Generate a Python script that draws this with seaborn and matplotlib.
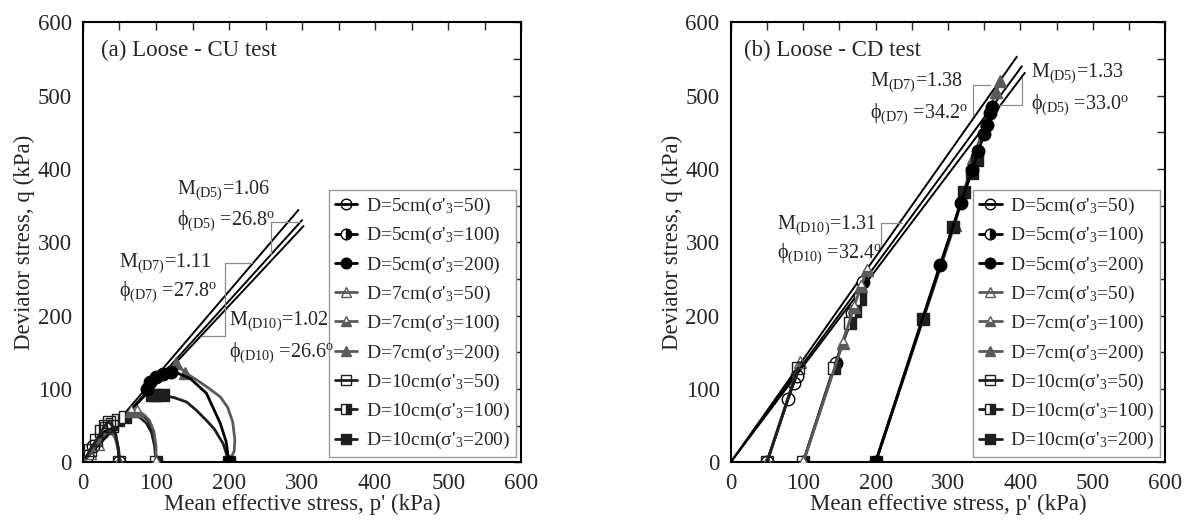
import numpy as np
import pandas as pd
import seaborn as sns
import matplotlib
matplotlib.use("Agg")
import matplotlib.pyplot as plt
from matplotlib.ticker import MultipleLocator

# ---- CU test (a): stress paths p', q (kPa) ----
cu_d5_50_p = [50, 49, 46, 42, 37, 30, 22, 14, 6, 2]
cu_d5_50_q = [0, 16, 30, 40, 45, 42, 33, 22, 9, 3]
cu_d5_100_p = [100, 99, 96, 90, 82, 74, 66, 60]
cu_d5_100_q = [0, 22, 42, 56, 64, 68, 68, 66]
cu_d5_200_p = [200, 196, 188, 169, 147, 128, 121, 110, 100, 92, 87]
cu_d5_200_q = [0, 28, 53, 94, 114, 122, 123, 120, 116, 110, 100]
cu_d7_50_p = [50, 48, 44, 38, 30, 20, 10, 3]
cu_d7_50_q = [0, 18, 33, 42, 38, 25, 12, 3]
cu_d7_100_p = [100, 100, 97, 91, 83, 74, 66]
cu_d7_100_q = [0, 22, 42, 57, 65, 70, 70]
cu_d7_200_p = [200, 207, 208, 205, 198, 188, 172, 156, 140, 128]
cu_d7_200_q = [0, 15, 30, 55, 75, 89, 101, 112, 122, 135]
cu_d10_50_p = [50, 48, 45, 40, 35, 30, 25, 18, 10, 4]
cu_d10_50_q = [0, 20, 38, 50, 55, 50, 42, 30, 17, 6]
cu_d10_100_p = [100, 98, 94, 87, 78, 68, 58, 48, 40, 32]
cu_d10_100_q = [0, 22, 40, 53, 61, 64, 62, 57, 52, 46]
cu_d10_200_p = [200, 192, 180, 169, 155, 142, 125, 110, 100, 95]
cu_d10_200_q = [0, 25, 45, 57, 71, 82, 88, 91, 91, 92]

# ---- CD test (b) ----
cd_d5_50_p = [50, 79, 87, 91]
cd_d5_50_q = [0, 86, 108, 118]
cd_d5_100_p = [100, 145, 168, 182]
cd_d5_100_q = [0, 135, 204, 246]
cd_d5_200_p = [200, 289, 318, 333, 342, 350, 354, 358, 361]
cd_d5_200_q = [0, 269, 354, 398, 425, 448, 460, 476, 484]
cd_d7_50_p = [50, 95]
cd_d7_50_q = [0, 136]
cd_d7_100_p = [100, 155, 170, 180, 188]
cd_d7_100_q = [0, 163, 212, 240, 262]
cd_d7_200_p = [200, 309, 335, 352, 366, 372]
cd_d7_200_q = [0, 323, 415, 465, 505, 520]
cd_d10_50_p = [50, 93]
cd_d10_50_q = [0, 128]
cd_d10_100_p = [100, 142, 165, 172, 178]
cd_d10_100_q = [0, 128, 190, 206, 222]
cd_d10_200_p = [200, 265, 307, 322, 333, 340]
cd_d10_200_q = [0, 195, 321, 369, 394, 412]

# critical state lines (end points, drawn from origin)
cu_csl_p = [295, 300, 302]
cu_csl_q = [344, 330, 322]
cd_csl_p = [395, 402, 406]
cd_csl_q = [553, 540, 531]

labels = [r"D=5cm(σ'$_{\mathregular{3}}$=50)", r"D=5cm(σ'$_{\mathregular{3}}$=100)",
          r"D=5cm(σ'$_{\mathregular{3}}$=200)", r"D=7cm(σ'$_{\mathregular{3}}$=50)",
          r"D=7cm(σ'$_{\mathregular{3}}$=100)", r"D=7cm(σ'$_{\mathregular{3}}$=200)",
          r"D=10cm(σ'$_{\mathregular{3}}$=50)", r"D=10cm(σ'$_{\mathregular{3}}$=100)",
          r"D=10cm(σ'$_{\mathregular{3}}$=200)"]

sns.set_style("white")
plt.rcParams['font.family'] = ['Liberation Serif', 'DejaVu Serif']
plt.rcParams['mathtext.fontset'] = 'custom'
plt.rcParams['mathtext.rm'] = 'Liberation Serif'
plt.rcParams['mathtext.it'] = 'Liberation Serif:italic'

BLK = '#000000'
GRY = '#5a5a5a'
DK = '#1e1e1e'

# marker, color, fillstyle, zorder for each series
styles = [
    ('o', BLK, 'none', 3), ('o', BLK, 'right', 2), ('o', BLK, 'full', 4),
    ('^', GRY, 'none', 3), ('^', GRY, 'bottom', 5), ('^', GRY, 'full', 3),
    ('s', DK, 'none', 3), ('s', DK, 'right', 2), ('s', DK, 'full', 3),
]

cu_series = [(cu_d5_50_p, cu_d5_50_q, [0, 7, 8]), (cu_d5_100_p, cu_d5_100_q, [0]),
             (cu_d5_200_p, cu_d5_200_q, [0, 6, 7, 8, 9, 10]),
             (cu_d7_50_p, cu_d7_50_q, [0, 5, 6]), (cu_d7_100_p, cu_d7_100_q, [0, 5, 6]),
             (cu_d7_200_p, cu_d7_200_q, [0, 8, 9]),
             (cu_d10_50_p, cu_d10_50_q, [0, 3, 4, 5, 6, 7, 8]),
             (cu_d10_100_p, cu_d10_100_q, [0, 6, 7, 8, 9]),
             (cu_d10_200_p, cu_d10_200_q, [0, 7, 8, 9])]
cd_series = [(cd_d5_50_p, cd_d5_50_q, None), (cd_d5_100_p, cd_d5_100_q, None),
             (cd_d5_200_p, cd_d5_200_q, None), (cd_d7_50_p, cd_d7_50_q, None),
             (cd_d7_100_p, cd_d7_100_q, None), (cd_d7_200_p, cd_d7_200_q, None),
             (cd_d10_50_p, cd_d10_50_q, None), (cd_d10_100_p, cd_d10_100_q, None),
             (cd_d10_200_p, cd_d10_200_q, None)]

fig = plt.figure(figsize=(11.94, 5.30), dpi=100)
ax1 = fig.add_axes([0.0695, 0.128, 0.367, 0.830])
ax2 = fig.add_axes([0.612, 0.128, 0.364, 0.830])


def draw_paths(ax, series):
    for (p, q, mk), (m, c, fs, z), lab in zip(series, styles, labels):
        sns.lineplot(x=p, y=q, sort=False, estimator=None, ax=ax, color=c, lw=2.0,
                     marker=m, markersize=9, fillstyle=fs, markerfacecoloralt='white',
                     markeredgecolor=c, markeredgewidth=1.0, markevery=mk,
                     label=lab, zorder=z)


def draw_csl(ax, ends_p, ends_q):
    for p, q in zip(ends_p, ends_q):
        ax.plot([0, p], [0, q], color='black', lw=1.4, zorder=1)


def style_axes(ax):
    ax.set_xlim(0, 600)
    ax.set_ylim(0, 600)
    ax.xaxis.set_major_locator(MultipleLocator(100))
    ax.yaxis.set_major_locator(MultipleLocator(100))
    ax.xaxis.set_minor_locator(MultipleLocator(50))
    ax.yaxis.set_minor_locator(MultipleLocator(50))
    ax.tick_params(which='both', direction='in', length=6, width=1.0,
                   top=True, right=True, labelsize=16.5, pad=8)
    for s in ax.spines.values():
        s.set_color('black')
        s.set_linewidth(1.5)
    ax.set_xlabel("Mean effective stress, p' (kPa)", fontsize=16.5, labelpad=0)
    ax.set_ylabel("Deviator stress, q (kPa)", fontsize=16.5, labelpad=2)
    leg = ax.legend(loc='lower right', fontsize=14, frameon=True, fancybox=False,
                    framealpha=1, edgecolor='#999999', handlelength=1.15,
                    handletextpad=0.45, borderpad=0.3, labelspacing=0.42,
                    borderaxespad=0.25, markerscale=0.85)
    leg.get_frame().set_linewidth(1.0)


def bracket(ax, xs, ys):
    ax.plot(xs, ys, color='#8a8a8a', lw=0.9, zorder=1)


ANN = 14.5

# ---- (a) CU ----
draw_csl(ax1, cu_csl_p, cu_csl_q)
draw_paths(ax1, cu_series)
bracket(ax1, [257, 257, 297], [284, 328, 328])
bracket(ax1, [163, 194, 194, 231], [172, 172, 271, 271])
ax1.text(24, 561, "(a) Loose - CU test", fontsize=16.5, va='center')
ax1.text(129, 371, r"M$_{\mathregular{(D5)}}$=1.06", fontsize=ANN, va='center')
ax1.text(129, 330, r"ϕ$_{\mathregular{(D5)}}$ =26.8$^{\mathregular{o}}$", fontsize=ANN, va='center')
ax1.text(50, 271, r"M$_{\mathregular{(D7)}}$=1.11", fontsize=ANN, va='center')
ax1.text(50, 232, r"ϕ$_{\mathregular{(D7)}}$ =27.8$^{\mathregular{o}}$", fontsize=ANN, va='center')
ax1.text(200, 193, r"M$_{\mathregular{(D10)}}$=1.02", fontsize=ANN, va='center', zorder=6)
ax1.text(200, 150, r"ϕ$_{\mathregular{(D10)}}$ =26.6$^{\mathregular{o}}$", fontsize=ANN, va='center', zorder=6)
style_axes(ax1)

# ---- (b) CD ----
draw_csl(ax2, cd_csl_p, cd_csl_q)
draw_paths(ax2, cd_series)
bracket(ax2, [335, 335, 358], [472, 515, 515])
bracket(ax2, [371, 402, 402], [487, 487, 524])
bracket(ax2, [207, 207, 236], [296, 326, 326])
ax2.text(18, 562, "(b) Loose - CD test", fontsize=16.5, va='center')
ax2.text(192, 518, r"M$_{\mathregular{(D7)}}$=1.38", fontsize=ANN, va='center')
ax2.text(192, 476, r"ϕ$_{\mathregular{(D7)}}$ =34.2$^{\mathregular{o}}$", fontsize=ANN, va='center')
ax2.text(415, 531, r"M$_{\mathregular{(D5)}}$=1.33", fontsize=ANN, va='center')
ax2.text(415, 488, r"ϕ$_{\mathregular{(D5)}}$ =33.0$^{\mathregular{o}}$", fontsize=ANN, va='center')
ax2.text(64, 323, r"M$_{\mathregular{(D10)}}$=1.31", fontsize=ANN, va='center')
ax2.text(64, 284, r"ϕ$_{\mathregular{(D10)}}$ =32.4$^{\mathregular{o}}$", fontsize=ANN, va='center')
style_axes(ax2)

fig.savefig("out.png", dpi=100)
